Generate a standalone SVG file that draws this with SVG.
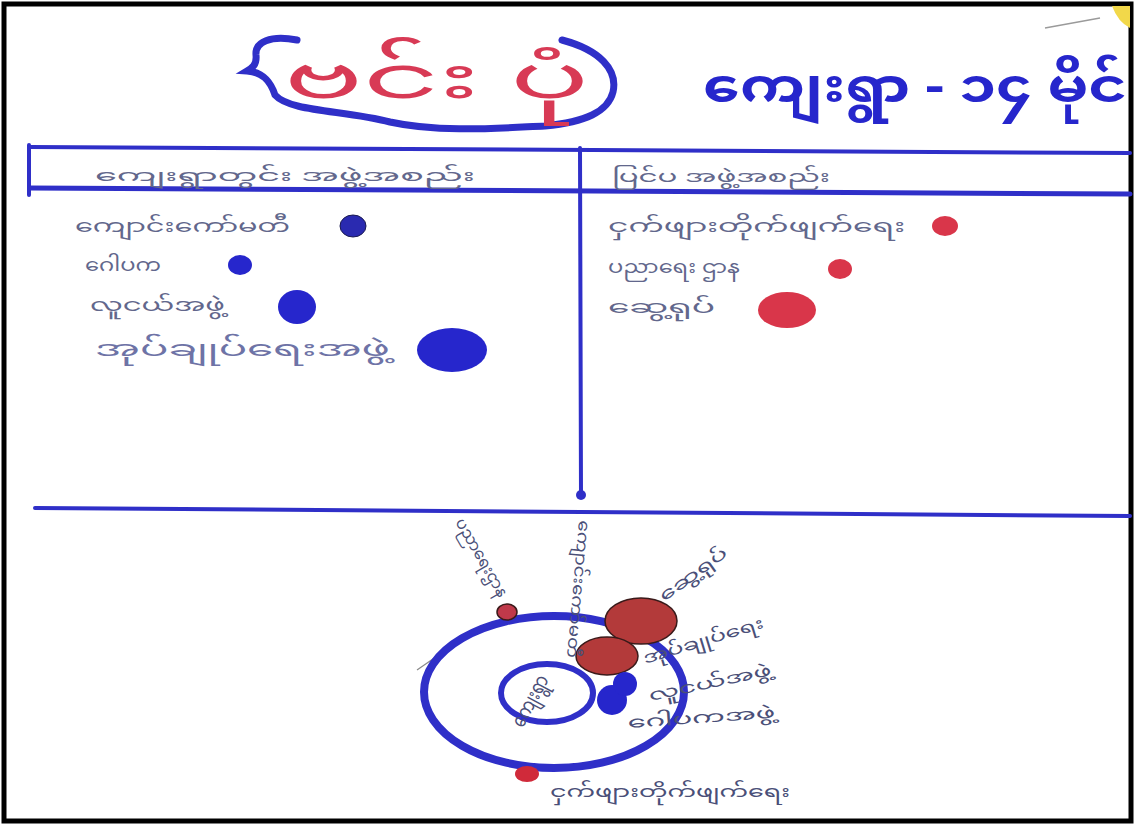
<svg xmlns="http://www.w3.org/2000/svg" width="1135" height="825" viewBox="0 0 1135 825">
<style>
.ln{stroke:#2f2fc8;stroke-width:4;fill:none;stroke-linecap:round}
.mm{font-family:"Noto Sans Myanmar","Padauk","Myanmar Text","Noto Sans",sans-serif}
.hw{fill:#62678c;font-size:18px}
.hd{fill:#62678c;font-size:17px}
.bd{fill:#2626cc}
.rd{fill:#d9364a}
.rv{fill:#b33a3a;stroke:#3a1a1a;stroke-width:1.5}
.vl{fill:#4a4f78;font-size:16px}
</style>
<rect x="4" y="4" width="1127" height="817" fill="#ffffff" stroke="#000000" stroke-width="5"/>
<line x1="1045" y1="28" x2="1100" y2="18" stroke="#9a9a9a" stroke-width="1.5"/>
<path d="M1112 6 L1130 6 L1130 28 Q1118 22 1112 6 Z" fill="#f2d84a"/>
<g id="title">
<path d="M297 40 C270 35 255 42 256 55 C257 65 252 68 247 71 C262 72 270 80 275 95 C290 112 345 110 390 122 C440 133 500 128 545 126 C585 122 608 112 613 92 C618 70 600 50 562 40" stroke="#2f2fc8" stroke-width="7" fill="none" stroke-linecap="round"/>
<text class="mm" x="284" y="98" font-size="60" fill="#d83a55" textLength="305" lengthAdjust="spacingAndGlyphs">ဗင်း ပုံ</text>
</g>
<g id="village">
<text class="mm" x="703" y="102" font-size="46" font-weight="bold" fill="#2626cc" textLength="424" lengthAdjust="spacingAndGlyphs">ကျေးရွာ - ၁၄ မိုင်</text>
</g>
<g id="table-lines">
<line class="ln" x1="30" y1="147" x2="1130" y2="153"/>
<line class="ln" x1="30" y1="188" x2="1130" y2="194" style="stroke-width:5"/>
<line class="ln" x1="29" y1="145" x2="29" y2="195"/>
<line class="ln" x1="580" y1="148" x2="581" y2="495"/>
<circle cx="581" cy="495" r="5" fill="#2f2fc8"/>
<line class="ln" x1="35" y1="508" x2="1130" y2="516"/>
</g>
<g id="header-left"><text class="mm hd" x="95" y="181" textLength="380" lengthAdjust="spacingAndGlyphs">ကျေးရွာတွင်း အဖွဲ့အစည်း</text></g>
<g id="header-right"><text class="mm hd" x="612" y="182" textLength="218" lengthAdjust="spacingAndGlyphs">ပြင်ပ အဖွဲ့အစည်း</text></g>
<g id="left-items">
<text class="mm hw" x="75" y="232" textLength="215" lengthAdjust="spacingAndGlyphs">ကျောင်းကော်မတီ</text>
<ellipse cx="353" cy="226" rx="13" ry="11" fill="#2a2ab0" stroke="#1a1a50" stroke-width="1"/>
<text class="mm hw" x="85" y="271" textLength="76" lengthAdjust="spacingAndGlyphs">ဂေါပက</text>
<ellipse class="bd" cx="240" cy="265" rx="12" ry="10"/>
<text class="mm hw" x="90" y="311" textLength="135" lengthAdjust="spacingAndGlyphs">လူငယ်အဖွဲ့</text>
<ellipse class="bd" cx="297" cy="307" rx="19" ry="17"/>
<text class="mm hw" x="95" y="356" style="font-size:21px;fill:#6e73a6" textLength="295" lengthAdjust="spacingAndGlyphs">အုပ်ချုပ်ရေးအဖွဲ့</text>
<ellipse class="bd" cx="452" cy="350" rx="35" ry="22"/>
</g>
<g id="right-items">
<text class="mm hw" x="608" y="232" textLength="297" lengthAdjust="spacingAndGlyphs">ငှက်ဖျားတိုက်ဖျက်ရေး</text>
<ellipse class="rd" cx="945" cy="226" rx="13" ry="10"/>
<text class="mm hw" x="608" y="273" textLength="132" lengthAdjust="spacingAndGlyphs">ပညာရေး ဌာန</text>
<ellipse class="rd" cx="840" cy="269" rx="12" ry="10"/>
<text class="mm hw" x="608" y="313" textLength="107" lengthAdjust="spacingAndGlyphs">ဆွေ့ရုပ်</text>
<ellipse class="rd" cx="787" cy="310" rx="29" ry="18"/>
</g>
<g id="venn">
<line x1="417" y1="670" x2="443" y2="652" stroke="#888" stroke-width="1.2"/>
<ellipse cx="554" cy="692" rx="130" ry="76" stroke="#2f2fc8" stroke-width="8" fill="none"/>
<ellipse cx="547" cy="693" rx="46" ry="29" stroke="#2f2fc8" stroke-width="6" fill="none"/>
<ellipse class="rv" cx="641" cy="621" rx="36" ry="23"/>
<ellipse class="rv" cx="607" cy="656" rx="31" ry="19"/>
<ellipse class="rv" cx="507" cy="612" rx="10" ry="8" style="fill:#c0394a"/>
<ellipse cx="527" cy="774" rx="12" ry="8" fill="#d02a3a"/>
<circle cx="612" cy="700" r="15" fill="#2626cc"/>
<circle cx="625" cy="684" r="12" fill="#2626cc"/>
<text class="mm vl" transform="translate(536,704) rotate(-62)" text-anchor="middle" style="font-size:20px" textLength="56" lengthAdjust="spacingAndGlyphs">ကျေးရွာ</text>
<text class="mm vl" transform="translate(455,522) rotate(60)" textLength="88" lengthAdjust="spacingAndGlyphs">ပညာရေးဌာန</text>
<text class="mm vl" transform="translate(579,520) rotate(95)" textLength="138" lengthAdjust="spacingAndGlyphs">ကျောင်းကော်မတီ</text>
<text class="mm vl" transform="translate(664,602) rotate(-36)" textLength="80" lengthAdjust="spacingAndGlyphs">ဆွေ့ရုပ်</text>
<text class="mm vl" transform="translate(645,664) rotate(-17)" textLength="125" lengthAdjust="spacingAndGlyphs">အုပ်ချုပ်ရေး</text>
<text class="mm vl" transform="translate(650,701) rotate(-12)" textLength="125" lengthAdjust="spacingAndGlyphs">လူငယ်အဖွဲ့</text>
<text class="mm vl" transform="translate(628,728) rotate(-4)" textLength="148" lengthAdjust="spacingAndGlyphs">ဂေါပကအဖွဲ့</text>
<text class="mm vl" x="550" y="797" textLength="240" lengthAdjust="spacingAndGlyphs">ငှက်ဖျားတိုက်ဖျက်ရေး</text>
</g>
</svg>
